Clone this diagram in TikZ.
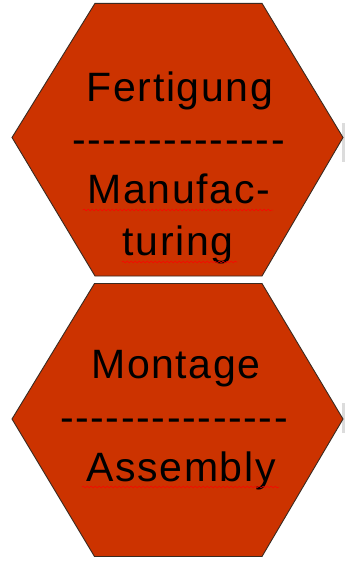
\documentclass[tikz,border=0pt]{standalone}
\usepackage{fontspec}
\newfontfamily\hexfont{Liberation Sans}[LetterSpace=4]
\usetikzlibrary{decorations.pathmorphing}
\definecolor{hexred}{HTML}{CC3300}
\definecolor{hexline}{HTML}{3A2A20}
\definecolor{barcol}{HTML}{DCDCDC}
\tikzset{
  hexshape/.style={fill=hexred, draw=hexline, line width=0.9pt, line join=miter},
  hextext/.style={anchor=base, inner sep=0pt, font=\hexfont\fontsize{41}{51}\selectfont, text=black},
  spellwave/.style={draw=red, line width=0.5pt, decorate, decoration={snake, amplitude=0.8pt, segment length=4pt}},
  sidebar/.style={fill=barcol, draw=none}
}
\begin{document}
\begin{tikzpicture}[x=1pt, y=-1pt]
\useasboundingbox[fill=white] (0,0) rectangle (350,563);
% side marks
\fill[sidebar] (342,123) rectangle (345,162);
\fill[sidebar] (342,403) rectangle (345,433);
% hexagons
\draw[hexshape] (95,3.3) -- (262,3.3) -- (343,137.5) -- (262,276) -- (95,276) -- (12,137.5) -- cycle;
\draw[hexshape] (94.5,283.5) -- (262,283.5) -- (343,419) -- (262,556.5) -- (94.5,556.5) -- (12,419) -- cycle;
% texts top
\node[hextext] (fert) at (180,101) {Fertigung};
\node[hextext] (dash1) at (178.5,153) {--------------};
\node[hextext] (manu) at (179,203) {Manufac-};
\node[hextext] (turi) at (178,255) {turing};
% texts bottom
\node[hextext] (mont) at (176,378.5) {Montage};
\node[hextext] (dash2) at (174,431) {---------------};
\node[hextext] (asse) at (181,481) {Assembly};
% spell-check underlines
\coordinate (w1a) at (83,210);  \coordinate (w1b) at (273,210);
\coordinate (w2a) at (122,262); \coordinate (w2b) at (237,262);
\coordinate (w3a) at (82,487);  \coordinate (w3b) at (279,487);
\draw[spellwave] (w1a) -- (w1b);
\draw[spellwave] (w2a) -- (w2b);
\draw[spellwave] (w3a) -- (w3b);
\end{tikzpicture}
\end{document}
